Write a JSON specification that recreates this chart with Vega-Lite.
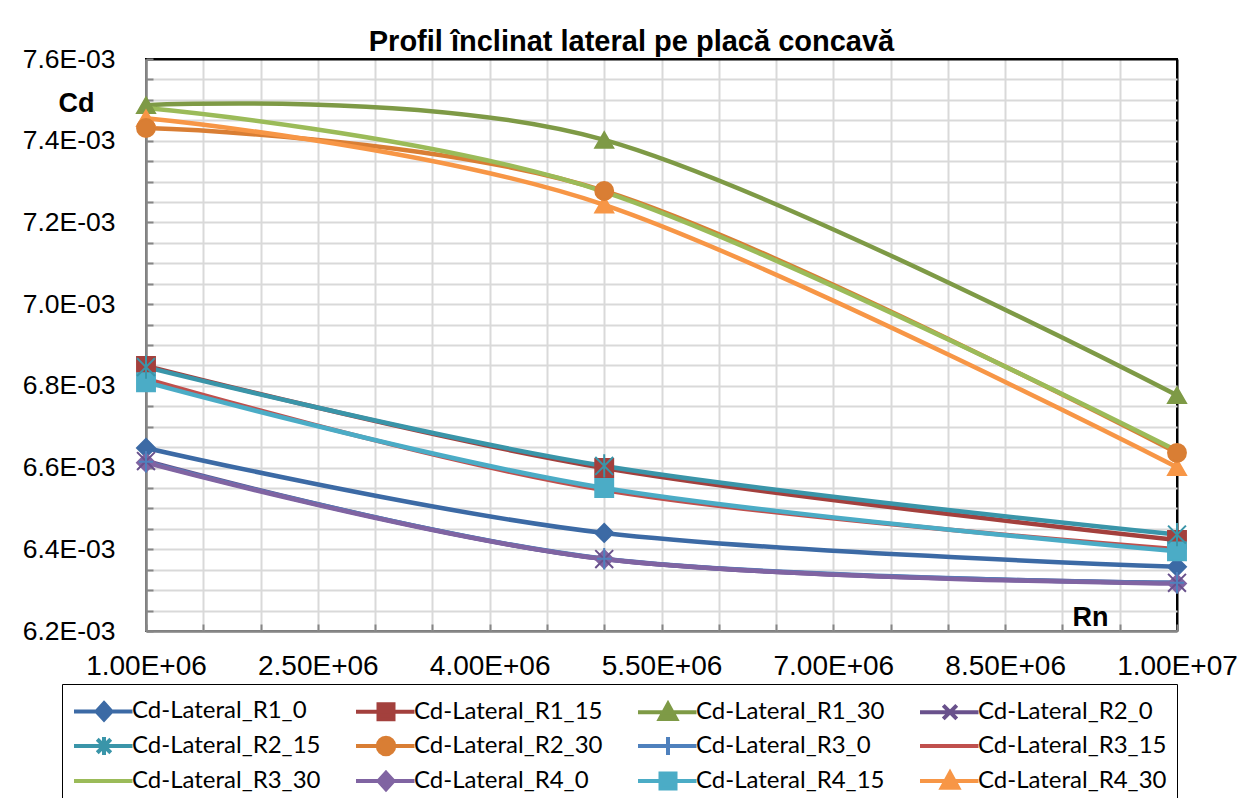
{
  "$schema": "https://vega.github.io/schema/vega-lite/v6.json",
  "width": 1031,
  "height": 572,
  "autosize": {"type": "none"},
  "padding": {"left": 146, "top": 59, "right": 69, "bottom": 167},
  "background": "white",
  "title": {
    "text": "Profil înclinat lateral pe placă concavă",
    "font": "Liberation Sans",
    "fontSize": 29,
    "fontWeight": "bold",
    "color": "black",
    "anchor": "middle",
    "frame": "group",
    "baseline": "middle",
    "offset": -25,
    "dx": -30
  },
  "config": {
    "view": {"stroke": "black", "strokeWidth": 2},
    "axis": {
      "labelFont": "Liberation Sans",
      "labelFontSize": 27,
      "labelColor": "black",
      "domainColor": "#868686",
      "domainWidth": 2.5,
      "tickColor": "#868686",
      "tickWidth": 2,
      "gridWidth": 2,
      "labelOverlap": false,
      "labelFlush": false,
      "titleFont": "Liberation Sans",
      "titleFontSize": 27,
      "titleFontWeight": "bold",
      "titleColor": "black"
    },
    "point": {"filled": true, "size": 320, "strokeWidth": 2, "opacity": 1}
  },
  "data": {
    "values": [
      {"series": "Cd-Lateral_R1_0", "Rn": 1000000, "Cd": 0.006648},
      {"series": "Cd-Lateral_R1_0", "Rn": 5000000, "Cd": 0.006440},
      {"series": "Cd-Lateral_R1_0", "Rn": 10000000, "Cd": 0.006357},
      {"series": "Cd-Lateral_R1_15", "Rn": 1000000, "Cd": 0.006849},
      {"series": "Cd-Lateral_R1_15", "Rn": 5000000, "Cd": 0.006599},
      {"series": "Cd-Lateral_R1_15", "Rn": 10000000, "Cd": 0.006423},
      {"series": "Cd-Lateral_R1_30", "Rn": 1000000, "Cd": 0.007487},
      {"series": "Cd-Lateral_R1_30", "Rn": 5000000, "Cd": 0.007402},
      {"series": "Cd-Lateral_R1_30", "Rn": 10000000, "Cd": 0.006777},
      {"series": "Cd-Lateral_R2_0", "Rn": 1000000, "Cd": 0.006616},
      {"series": "Cd-Lateral_R2_0", "Rn": 5000000, "Cd": 0.006376},
      {"series": "Cd-Lateral_R2_0", "Rn": 10000000, "Cd": 0.006318},
      {"series": "Cd-Lateral_R2_15", "Rn": 1000000, "Cd": 0.006846},
      {"series": "Cd-Lateral_R2_15", "Rn": 5000000, "Cd": 0.006604},
      {"series": "Cd-Lateral_R2_15", "Rn": 10000000, "Cd": 0.006436},
      {"series": "Cd-Lateral_R2_30", "Rn": 1000000, "Cd": 0.007431},
      {"series": "Cd-Lateral_R2_30", "Rn": 5000000, "Cd": 0.007277},
      {"series": "Cd-Lateral_R2_30", "Rn": 10000000, "Cd": 0.006636},
      {"series": "Cd-Lateral_R3_0", "Rn": 1000000, "Cd": 0.006614},
      {"series": "Cd-Lateral_R3_0", "Rn": 5000000, "Cd": 0.006377},
      {"series": "Cd-Lateral_R3_0", "Rn": 10000000, "Cd": 0.006318},
      {"series": "Cd-Lateral_R3_15", "Rn": 1000000, "Cd": 0.006817},
      {"series": "Cd-Lateral_R3_15", "Rn": 5000000, "Cd": 0.006545},
      {"series": "Cd-Lateral_R3_15", "Rn": 10000000, "Cd": 0.006400},
      {"series": "Cd-Lateral_R3_30", "Rn": 1000000, "Cd": 0.007480},
      {"series": "Cd-Lateral_R3_30", "Rn": 5000000, "Cd": 0.007275},
      {"series": "Cd-Lateral_R3_30", "Rn": 10000000, "Cd": 0.006641},
      {"series": "Cd-Lateral_R4_0", "Rn": 1000000, "Cd": 0.006612},
      {"series": "Cd-Lateral_R4_0", "Rn": 5000000, "Cd": 0.006376},
      {"series": "Cd-Lateral_R4_0", "Rn": 10000000, "Cd": 0.006316},
      {"series": "Cd-Lateral_R4_15", "Rn": 1000000, "Cd": 0.006809},
      {"series": "Cd-Lateral_R4_15", "Rn": 5000000, "Cd": 0.006550},
      {"series": "Cd-Lateral_R4_15", "Rn": 10000000, "Cd": 0.006395},
      {"series": "Cd-Lateral_R4_30", "Rn": 1000000, "Cd": 0.007455},
      {"series": "Cd-Lateral_R4_30", "Rn": 5000000, "Cd": 0.007243},
      {"series": "Cd-Lateral_R4_30", "Rn": 10000000, "Cd": 0.006601}
    ]
  },
  "encoding": {
    "x": {
      "field": "Rn",
      "type": "quantitative",
      "scale": {"domain": [1000000, 10000000], "nice": false, "zero": false},
      "axis": {
        "title": "Rn",
        "titleX": 944,
        "titleY": -14,
        "titleAlign": "center",
        "titleBaseline": "middle",
        "values": [1000000,1500000,2000000,2500000,3000000,3500000,4000000,4500000,5000000,5500000,6000000,6500000,7000000,7500000,8000000,8500000,9000000,9500000,10000000],
        "labelExpr": "round((datum.value-1000000)/500000) % 3 == 0 ? (datum.value >= 9999999 ? '1.00E+07' : format(datum.value/1000000, '.2f') + 'E+06') : ''",
        "labelFontSize": 28,
        "tickSize": -7,
        "labelPadding": 28,
        "gridColor": {"condition": {"test": "datum.value >= 9999999", "value": "black"}, "value": "#d9d9d9"}
      }
    },
    "y": {
      "field": "Cd",
      "type": "quantitative",
      "scale": {"domain": [0.0062, 0.0076], "nice": false, "zero": false},
      "axis": {
        "title": "Cd",
        "titleAngle": 0,
        "titleX": -70,
        "titleY": 44,
        "titleAlign": "center",
        "titleBaseline": "middle",
        "values": [0.0062,0.00625,0.0063,0.00635,0.0064,0.00645,0.0065,0.00655,0.0066,0.00665,0.0067,0.00675,0.0068,0.00685,0.0069,0.00695,0.007,0.00705,0.0071,0.00715,0.0072,0.00725,0.0073,0.00735,0.0074,0.00745,0.0075,0.00755,0.0076],
        "labelExpr": "round(datum.value*100000) % 20 == 0 ? format(datum.value*1000, '.1f') + 'E-03' : ''",
        "labelFontSize": 26.5,
        "tickSize": -7,
        "labelPadding": 38,
        "gridColor": {"condition": {"test": "datum.value >= 0.007599", "value": "black"}, "value": "#d9d9d9"}
      }
    }
  },
  "layer": [
    {
      "mark": {"type": "line", "interpolate": "cardinal", "strokeWidth": 4.5},
      "encoding": {
        "color": {
          "field": "series",
          "type": "nominal",
          "scale": {
            "domain": ["Cd-Lateral_R1_0","Cd-Lateral_R1_15","Cd-Lateral_R1_30","Cd-Lateral_R2_0","Cd-Lateral_R2_15","Cd-Lateral_R2_30","Cd-Lateral_R3_0","Cd-Lateral_R3_15","Cd-Lateral_R3_30","Cd-Lateral_R4_0","Cd-Lateral_R4_15","Cd-Lateral_R4_30"],
            "range": ["#3C6AA5","#A3403D","#7E9A46","#69518C","#3A95A9","#D97E34","#4F81BD","#C0504D","#9BBB59","#8064A2","#4BACC6","#F79646"]
          },
          "legend": {
            "title": null,
            "orient": "none",
            "legendX": -84,
            "legendY": 625,
            "direction": "horizontal",
            "columns": 4,
            "gridAlign": "all",
            "columnPadding": 27,
            "rowPadding": 1,
            "padding": 10,
            "strokeColor": "black",
            "fillColor": "white",
            "symbolSize": 900,
            "symbolStrokeWidth": 4,
            "labelOffset": 26,
            "labelFont": "Lato",
            "labelFontSize": 24,
            "labelColor": "black",
            "labelLimit": 400,
            "encode": {
              "symbols": {
                "update": {
                  "shape": {"signal": "{'Cd-Lateral_R1_0':'M-1,0L2.9,0M1,-0.55L1.5,0L1,0.55L0.5,0Z','Cd-Lateral_R1_15':'M-1,0L2.9,0M0.5,-0.5L1.5,-0.5L1.5,0.5L0.5,0.5Z','Cd-Lateral_R1_30':'M-1,0L2.9,0M1,-0.55L1.55,0.45L0.45,0.45Z','Cd-Lateral_R2_0':'M-1,0L2.9,0M0.55,-0.45L1.45,0.45M0.55,0.45L1.45,-0.45','Cd-Lateral_R2_15':'M-1,0L2.9,0M0.55,-0.45L1.45,0.45M0.55,0.45L1.45,-0.45M1,-0.6L1,0.6','Cd-Lateral_R2_30':'M-1,0L2.9,0M0.45,0A0.55,0.55 0 1,0 1.55,0A0.55,0.55 0 1,0 0.45,0Z','Cd-Lateral_R3_0':'M-1,0L2.9,0M1,-0.6L1,0.6','Cd-Lateral_R3_15':'M-1,0L2.9,0','Cd-Lateral_R3_30':'M-1,0L2.9,0','Cd-Lateral_R4_0':'M-1,0L2.9,0M1,-0.55L1.5,0L1,0.55L0.5,0Z','Cd-Lateral_R4_15':'M-1,0L2.9,0M0.5,-0.5L1.5,-0.5L1.5,0.5L0.5,0.5Z','Cd-Lateral_R4_30':'M-1,0L2.9,0M1,-0.55L1.55,0.45L0.45,0.45Z'}[datum.value]"},
                  "fill": {"scale": "color", "field": "value"},
                  "stroke": {"scale": "color", "field": "value"},
                  "strokeWidth": {"value": 4},
                  "opacity": {"value": 1}
                }
              }
            }
          }
        }
      }
    },
    {
      "encoding": {
        "fill": {
          "field": "series",
          "type": "nominal",
          "legend": null,
          "scale": {
            "domain": ["Cd-Lateral_R1_0","Cd-Lateral_R1_15","Cd-Lateral_R1_30","Cd-Lateral_R2_0","Cd-Lateral_R2_15","Cd-Lateral_R2_30","Cd-Lateral_R3_0","Cd-Lateral_R3_15","Cd-Lateral_R3_30","Cd-Lateral_R4_0","Cd-Lateral_R4_15","Cd-Lateral_R4_30"],
            "range": ["#3C6AA5","#A3403D","#7E9A46","#69518C","#3A95A9","#D97E34","#4F81BD","#C0504D","#9BBB59","#8064A2","#4BACC6","#F79646"]
          }
        },
        "stroke": {
          "field": "series",
          "type": "nominal",
          "legend": null,
          "scale": {
            "domain": ["Cd-Lateral_R1_0","Cd-Lateral_R1_15","Cd-Lateral_R1_30","Cd-Lateral_R2_0","Cd-Lateral_R2_15","Cd-Lateral_R2_30","Cd-Lateral_R3_0","Cd-Lateral_R3_15","Cd-Lateral_R3_30","Cd-Lateral_R4_0","Cd-Lateral_R4_15","Cd-Lateral_R4_30"],
            "range": ["#3C6AA5","#A3403D","#7E9A46","#69518C","#3A95A9","#D97E34","#4F81BD","#C0504D","#9BBB59","#8064A2","#4BACC6","#F79646"]
          }
        }
      },
      "layer": [
        {"transform": [{"filter": {"field": "series", "oneOf": ["Cd-Lateral_R1_0", "Cd-Lateral_R4_0"]}}], "mark": {"type": "point", "shape": "diamond"}},
        {"transform": [{"filter": {"field": "series", "oneOf": ["Cd-Lateral_R1_15", "Cd-Lateral_R4_15"]}}], "mark": {"type": "point", "shape": "square"}},
        {"transform": [{"filter": {"field": "series", "oneOf": ["Cd-Lateral_R1_30", "Cd-Lateral_R4_30"]}}], "mark": {"type": "point", "shape": "triangle-up"}},
        {"transform": [{"filter": {"field": "series", "equal": "Cd-Lateral_R2_0"}}], "mark": {"type": "point", "shape": "M-1,-1L1,1M-1,1L1,-1"}},
        {"transform": [{"filter": {"field": "series", "equal": "Cd-Lateral_R2_15"}}], "mark": {"type": "point", "shape": "M-1,-1L1,1M-1,1L1,-1M0,-1.3L0,1.3"}},
        {"transform": [{"filter": {"field": "series", "equal": "Cd-Lateral_R2_30"}}], "mark": {"type": "point", "shape": "circle"}},
        {"transform": [{"filter": {"field": "series", "equal": "Cd-Lateral_R3_0"}}], "mark": {"type": "point", "shape": "M0,-1.2L0,1.2M-0.8,0L0.8,0"}}
      ]
    }
  ]
}
